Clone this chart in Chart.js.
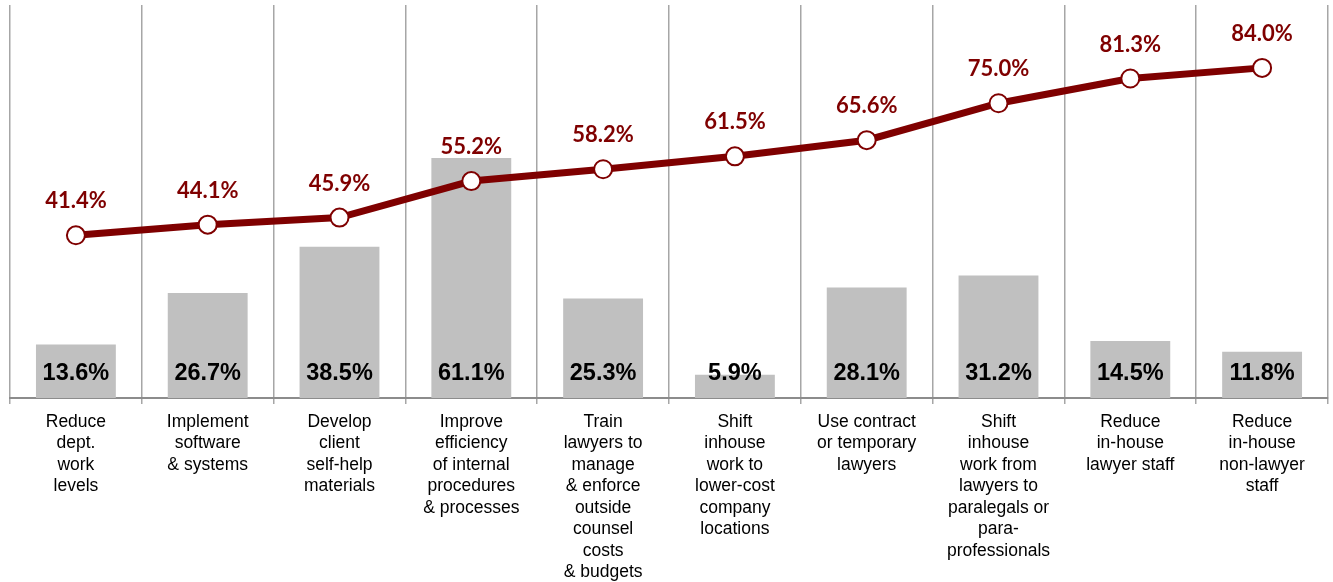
<!DOCTYPE html>
<html>
<head>
<meta charset="utf-8">
<script src="https://cdn.jsdelivr.net/npm/chart.js@4.4.0/dist/chart.umd.min.js"></script>
<style>
  html, body { margin: 0; padding: 0; background: #fff; }
  #wrap { width: 1333px; height: 582px; }
</style>
</head>
<body>
<div id="wrap"><canvas id="c" width="1333" height="582"></canvas></div>
<script>
const categories = [
  ["Reduce", "dept.", "work", "levels"],
  ["Implement", "software", "& systems"],
  ["Develop", "client", "self-help", "materials"],
  ["Improve", "efficiency", "of internal", "procedures", "& processes"],
  ["Train", "lawyers to", "manage", "& enforce", "outside", "counsel", "costs", "& budgets"],
  ["Shift", "inhouse", "work to", "lower-cost", "company", "locations"],
  ["Use contract", "or temporary", "lawyers"],
  ["Shift", "inhouse", "work from", "lawyers to", "paralegals or", "para-", "professionals"],
  ["Reduce", "in-house", "lawyer staff"],
  ["Reduce", "in-house", "non-lawyer", "staff"]
];
const barValues = [13.6, 26.7, 38.5, 61.1, 25.3, 5.9, 28.1, 31.2, 14.5, 11.8];
const lineValues = [41.4, 44.1, 45.9, 55.2, 58.2, 61.5, 65.6, 75.0, 81.3, 84.0];

const RED = '#7f0000';

const labelPlugin = {
  id: 'valueLabels',
  afterDatasetsDraw(chart) {
    const ctx = chart.ctx;
    const yScale = chart.scales.y;
    const base = yScale.getPixelForValue(0);
    const barMeta = chart.getDatasetMeta(1);
    ctx.save();
    ctx.fillStyle = '#000';
    ctx.textAlign = 'center';
    ctx.textBaseline = 'middle';
    ctx.font = 'bold 23.5px "Liberation Sans", Arial, sans-serif';
    barMeta.data.forEach((el, i) => {
      const txt = barValues[i].toFixed(1) + '%';
      ctx.fillText(txt, el.x, base - 24);
    });
    const lineMeta = chart.getDatasetMeta(0);
    ctx.fillStyle = RED;
    ctx.font = 'bold 22px Lato, "Open Sans", sans-serif';
    lineMeta.data.forEach((el, i) => {
      const txt = lineValues[i].toFixed(1) + '%';
      ctx.fillText(txt, el.x, el.y - 34);
    });
    ctx.restore();
  }
};

new Chart(document.getElementById('c'), {
  data: {
    labels: categories,
    datasets: [
      {
        type: 'line',
        data: lineValues,
        borderColor: RED,
        borderWidth: 7,
        pointRadius: 9,
        pointHoverRadius: 9,
        pointBackgroundColor: '#fff',
        pointBorderColor: RED,
        pointBorderWidth: 2,
        tension: 0,
        order: 1
      },
      {
        type: 'bar',
        data: barValues,
        backgroundColor: '#c0c0c0',
        borderWidth: 0,
        categoryPercentage: 1,
        barPercentage: 0.606,
        order: 2
      }
    ]
  },
  options: {
    responsive: false,
    animation: false,
    events: [],
    layout: { autoPadding: false, padding: { top: 5, left: 10, right: 5, bottom: 0 } },
    plugins: { legend: { display: false }, tooltip: { enabled: false } },
    scales: {
      y: { display: false, min: 0, max: 100 },
      x: {
        offset: true,
        grid: {
          offset: true,
          color: '#a6a6a6',
          lineWidth: 1.5,
          tickLength: 6,
          drawTicks: true
        },
        border: { display: true, color: '#8c8c8c', width: 2 },
        ticks: {
          color: '#000',
          font: { family: '"Liberation Sans", Arial, sans-serif', size: 17.5, lineHeight: 1.23 },
          padding: 7,
          maxRotation: 0,
          autoSkip: false
        },
        afterFit(scale) { scale.height = 184; }
      }
    }
  },
  plugins: [labelPlugin]
});
</script>
</body>
</html>
